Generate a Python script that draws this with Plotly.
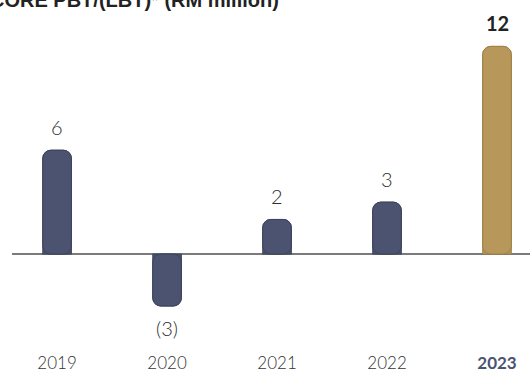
import plotly.graph_objects as go

years = ["2019", "2020", "2021", "2022", "2023"]
values = [6, -3, 2, 3, 12]
value_labels = ["6", "(3)", "2", "3", "12"]
title_text = "CORE PBT/(LBT)* (RM million)"

navy = "#4b5370"
gold = "#b8975a"
colors = [navy, navy, navy, navy, gold]
edge = ["#3c435c"] * 4 + ["#9e8048"]

fig = go.Figure()
# bar from 0 to value (rounded at the value end)
fig.add_trace(go.Bar(
    x=years, y=values, width=0.26,
    marker=dict(color=colors, line=dict(color=edge, width=1), cornerradius=8),
    hoverinfo="skip", showlegend=False,
))
# same bar drawn from value back to 0 (rounded at the zero end)
fig.add_trace(go.Bar(
    x=years, y=[-v for v in values], base=values, width=0.26,
    marker=dict(color=colors, line=dict(color=edge, width=1), cornerradius=8),
    hoverinfo="skip", showlegend=False,
))

annotations = []
for i, (yr, v, lab) in enumerate(zip(years, values, value_labels)):
    last = i == len(years) - 1
    annotations.append(dict(
        x=i, y=v, xref="x", yref="y",
        text=f"<b>{lab}</b>" if last else lab,
        showarrow=False,
        yanchor="bottom" if v >= 0 else "top",
        yshift=9 if v >= 0 else -8,
        font=dict(family="Lato Light, Lato" if not last else "Lato", size=20,
                  color="#222222" if last else "#2e2e2e"),
    ))

annotations.append(dict(
    xref="paper", yref="paper", x=-0.046, y=1.0, xanchor="left", yanchor="middle",
    text=f"<b>{title_text}</b>", showarrow=False,
    font=dict(family="Liberation Sans", size=20, color="#222222"),
))

ticktext = [
    f"<span style='color:{navy};font-family:Lato;font-weight:bold'>{y}</span>"
    if i == len(years) - 1 else y
    for i, y in enumerate(years)
]

fig.update_layout(
    width=530, height=374,
    margin=dict(l=12, r=0, t=0, b=23),
    paper_bgcolor="white", plot_bgcolor="white",
    barmode="overlay",
    annotations=annotations,
    xaxis=dict(
        type="category", range=[-0.41, 4.3], showgrid=False, showline=False,
        ticks="", tickvals=years, ticktext=ticktext,
        tickfont=dict(family="Lato Light, Lato", size=17, color="#333333"),
    ),
    yaxis=dict(
        range=[-5.6, 14.68], showgrid=False, showticklabels=False,
        zeroline=True, zerolinecolor="#7a7a7a", zerolinewidth=1.5,
    ),
)

fig.write_html("out.html")
